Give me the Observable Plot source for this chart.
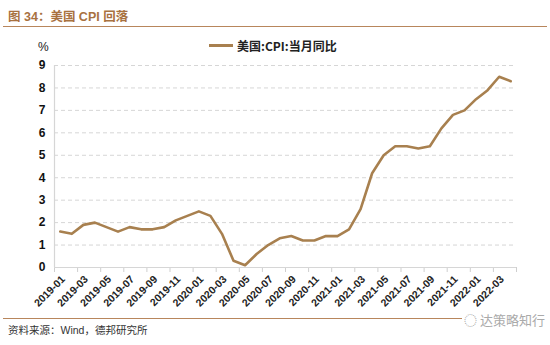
<!DOCTYPE html>
<html><head><meta charset="utf-8">
<script src="https://cdn.jsdelivr.net/npm/d3@7"></script>
<script src="https://cdn.jsdelivr.net/npm/@observablehq/plot@0.6"></script>
<style>
body{margin:0;background:#fff;}
#wrap{position:relative;width:550px;height:345px;overflow:hidden;font-family:"Liberation Sans",Arial,sans-serif;}
#chart{position:absolute;left:0;top:0;}
.title{position:absolute;left:8px;top:6px;font-size:12.5px;font-weight:bold;color:#a8713f;font-family:"Liberation Sans","Noto Sans CJK SC",sans-serif;white-space:nowrap;}
.rule{position:absolute;left:3px;width:544px;height:0;border-top:1.5px solid #b8865c;}
.unit{position:absolute;left:38px;top:40px;font-size:12px;color:#222;}
.legend{position:absolute;left:209px;top:37px;font-size:12px;font-weight:bold;color:#222;font-family:"Noto Sans CJK SC",sans-serif;display:flex;align-items:center;white-space:nowrap;}
.legend .sw{display:inline-block;width:24px;height:0;border-top:3px solid #a8804f;margin-right:4px;}
.source{position:absolute;left:8px;top:322px;font-size:10.5px;color:#333;font-family:"Liberation Sans","Noto Sans CJK SC",sans-serif;white-space:nowrap;}
.wm{position:absolute;left:462px;top:310px;font-size:13px;color:#aaa;background:#fff;padding:0 2px;font-family:"Noto Sans CJK SC",sans-serif;white-space:nowrap;}
</style></head>
<body>
<div id="wrap">
  <div class="title">图 34：美国 CPI 回落</div>
  <div class="rule" style="top:26px"></div>
  <div class="unit">%</div>
  <div class="legend"><span class="sw"></span><span id="legtext"></span></div>
  <div id="chart"></div>
  <div class="rule" style="top:318px"></div>
  <div class="source">资料来源：Wind，德邦研究所</div>
  <div class="wm">◌ 达策略知行</div>
</div>
<script>
const seriesName = "美国:CPI:当月同比";
const months = [
  "2019-01","2019-02","2019-03","2019-04","2019-05","2019-06","2019-07","2019-08","2019-09","2019-10","2019-11","2019-12",
  "2020-01","2020-02","2020-03","2020-04","2020-05","2020-06","2020-07","2020-08","2020-09","2020-10","2020-11","2020-12",
  "2021-01","2021-02","2021-03","2021-04","2021-05","2021-06","2021-07","2021-08","2021-09","2021-10","2021-11","2021-12",
  "2022-01","2022-02","2022-03","2022-04"
];
const cpi = [
  1.6,1.5,1.9,2.0,1.8,1.6,1.8,1.7,1.7,1.8,2.1,2.3,
  2.5,2.3,1.5,0.3,0.1,0.6,1.0,1.3,1.4,1.2,1.2,1.4,
  1.4,1.7,2.6,4.2,5.0,5.4,5.4,5.3,5.4,6.2,6.8,7.0,
  7.5,7.9,8.5,8.3
];
const yTicks = [0,1,2,3,4,5,6,7,8,9];
const xTickLabels = ["2019-01","2019-03","2019-05","2019-07","2019-09","2019-11","2020-01","2020-03","2020-05","2020-07","2020-09","2020-11","2021-01","2021-03","2021-05","2021-07","2021-09","2021-11","2022-01","2022-03"];

document.getElementById("legtext").textContent = seriesName;

const rows = months.map((m, i) => ({month: m, idx: i, value: cpi[i]}));
const labelRows = xTickLabels.map(m => ({month: m, idx: months.indexOf(m)}));
const boundaries = labelRows.map(d => d.idx - 0.5).concat([months.length - 0.5]);

const chart = Plot.plot({
  width: 550,
  height: 345,
  marginTop: 65,
  marginBottom: 78,
  marginLeft: 54,
  marginRight: 34,
  style: {fontFamily: "Liberation Sans, Arial, sans-serif", fontSize: "12px", color: "#111", background: "transparent"},
  x: {type: "linear", domain: [-0.5, months.length - 0.5], ticks: boundaries, tickFormat: () => "", tickSize: 5, label: null},
  y: {domain: [0, 9], ticks: yTicks, tickSize: 0, tickPadding: 9, label: null},
  marks: [
    Plot.ruleY(yTicks.filter(d => d > 0), {stroke: "#d6d6d6", strokeDasharray: "4,3", strokeWidth: 1}),
    Plot.ruleY([0], {stroke: "#d6d6d6", strokeWidth: 1.2}),
    Plot.ruleX([-0.5], {stroke: "#d6d6d6", strokeWidth: 1.2}),
    Plot.line(rows, {x: "idx", y: "value", stroke: "#a8804f", strokeWidth: 2.6, strokeLinejoin: "round"}),
    Plot.text(labelRows, {x: "idx", y: 0, text: "month", rotate: -45, textAnchor: "end", dy: 10, dx: 3, fontSize: 10.5, fontWeight: "bold", fill: "#222"})
  ]
});
d3.select(chart).selectAll('g[aria-label^="x-axis"]').attr("color", "#cfcfcf");
d3.select(chart).selectAll('g[aria-label^="y-axis"]').attr("font-weight", "bold").attr("font-size", "12px");
document.getElementById("chart").appendChild(chart);
</script>
</body></html>
